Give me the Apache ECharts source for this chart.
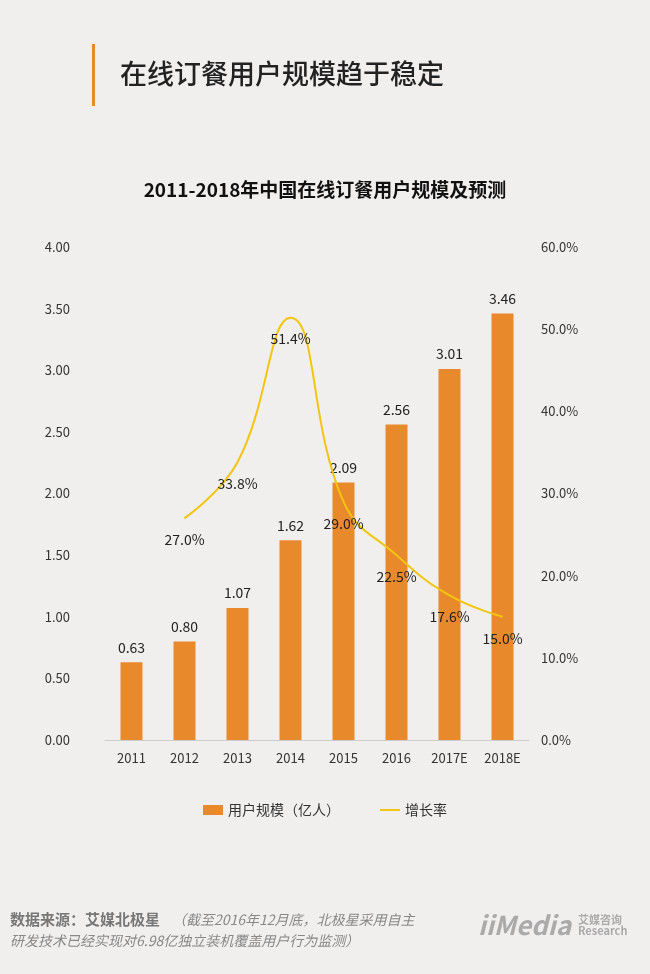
<!DOCTYPE html><html><head><meta charset="utf-8"><script src="https://cdn.jsdelivr.net/npm/echarts@6/dist/echarts.min.js"></script>
<style>html,body{margin:0;background:#f1efee}#c{width:650px;height:974px}</style></head><body><div id="c"></div>
<script>
const categories=['2011','2012','2013','2014','2015','2016','2017E','2018E'];
const users=[0.63,0.80,1.07,1.62,2.09,2.56,3.01,3.46];
const growth=[null,27.0,33.8,51.4,29.0,22.5,17.6,15.0];
const leftTicks=[0,4,0.5];const rightTicks=[0,60,10];
const ch=echarts.init(document.getElementById('c'));
const F='"Microsoft YaHei","Noto Sans CJK SC",sans-serif';
ch.setOption({backgroundColor:'#f1efee',textStyle:{fontFamily:F},
graphic:[{type:'rect',left:92,top:44,shape:{width:3,height:62},style:{fill:'#e8892b'}},
{type:'text',left:120,top:60,style:{text:'在线订餐用户规模趋于稳定',font:'500 27px '+F,fill:'#222'}},
{type:'text',left:10,top:912,style:{text:'数据来源：艾媒北极星',font:'bold 15px '+F,fill:'#777'}},
{type:'text',left:172,top:913,style:{text:'（截至2016年12月底，北极星采用自主',font:'italic 14px '+F,fill:'#888'}},
{type:'text',left:10,top:934,style:{text:'研发技术已经实现对6.98亿独立装机覆盖用户行为监测）',font:'italic 14px '+F,fill:'#888'}},
{type:'text',left:478,top:912,style:{text:'iiMedia',font:'bold italic 26px '+F,fill:'#aaa'}},
{type:'text',left:578,top:914,style:{text:'艾媒咨询\nResearch',font:'bold 11px '+F,fill:'#aaa'}}],
title:{text:'2011-2018年中国在线订餐用户规模及预测',left:'center',top:175,textStyle:{fontSize:19,fontWeight:'bold',color:'#111',fontFamily:F}},
legend:{bottom:152,left:'center',itemGap:40,textStyle:{fontSize:14,color:'#333'},data:[{name:'用户规模（亿人）',icon:'rect'},{name:'增长率',icon:'path://M0,0H20V2H0Z'}],itemWidth:20,itemHeight:10},
grid:{left:105,right:121,top:247,bottom:234},
xAxis:{type:'category',data:categories,axisTick:{show:false},axisLine:{lineStyle:{color:'#ccc'}},axisLabel:{fontSize:13,color:'#333',margin:12}},
yAxis:[{type:'value',min:leftTicks[0],max:leftTicks[1],interval:leftTicks[2],splitLine:{show:false},axisLabel:{fontSize:13,color:'#333',margin:35,formatter:v=>v.toFixed(2)}},
{type:'value',min:rightTicks[0],max:rightTicks[1],interval:rightTicks[2],splitLine:{show:false},axisLabel:{fontSize:13,color:'#333',margin:12,formatter:v=>v.toFixed(1)+'%'}}],
series:[{name:'用户规模（亿人）',type:'bar',data:users,barWidth:22,itemStyle:{color:'#e8892b'},label:{show:true,position:'top',fontSize:14,color:'#222',distance:8,formatter:p=>p.value.toFixed(2)}},
{name:'增长率',type:'line',yAxisIndex:1,data:growth,smooth:0.45,symbol:'circle',symbolSize:1,showSymbol:true,z:5,lineStyle:{color:'#f2c511',width:2},itemStyle:{color:'#f2c511'},labelLayout:{hideOverlap:false},label:{show:true,position:'bottom',distance:14,fontSize:14,color:'#222',formatter:p=>p.value.toFixed(1)+'%'}}]});
</script></body></html>
